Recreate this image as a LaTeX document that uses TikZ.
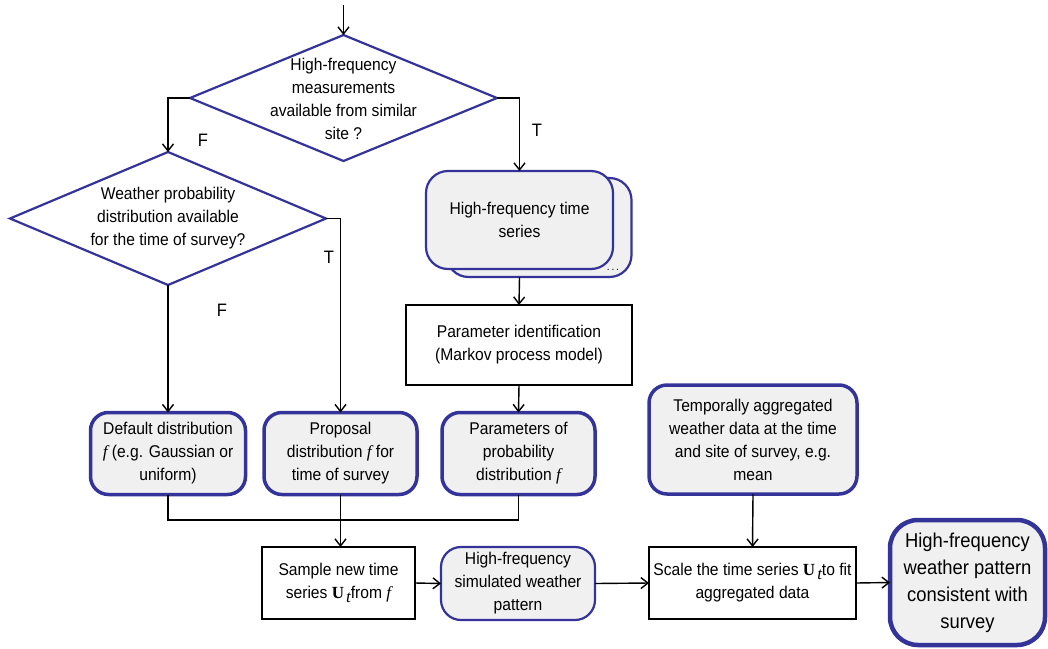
\documentclass[tikz,border=0pt]{standalone}
\usepackage{fontspec}
\setmainfont{Liberation Sans}[FakeStretch=0.92]
\newfontfamily\tmsfont{Liberation Serif}
\usetikzlibrary{shapes.geometric,arrows.meta}
\definecolor{edgeblue}{RGB}{51,51,153}
\definecolor{boxfill}{RGB}{240,240,240}
\newcommand\vecU{{\tmsfont\bfseries U}\kern2pt\raisebox{-0.45ex}{\tmsfont\itshape t}}
\newcommand\distf{{\tmsfont\itshape f}}

\begin{document}
\begin{tikzpicture}[x=1pt,y=-1pt,
  every node/.style={font=\fontsize{17}{23}\selectfont, align=center, inner sep=0pt, outer sep=0pt},
  arr/.style={draw=black, line width=1.4pt, -{Straight Barb[length=7pt,width=11pt]}},
  link/.style={draw=black, line width=1.4pt},
  decision/.style={diamond, draw=edgeblue, line width=2.2pt, fill=white},
  softbox/.style={rounded corners=18pt, draw=edgeblue, fill=boxfill, line width=3.5pt},
  thinsoft/.style={softbox, line width=2.2pt, rounded corners=22pt},
  plainbox/.style={draw=black, line width=1.4pt, fill=white},
  branch/.style={font=\fontsize{18}{20}\selectfont}]
\useasboundingbox (0,0) rectangle (1048,648);

% decisions
\node[decision, minimum width=307pt, minimum height=126pt] (d1) at (343.5,98) {};
\node (d1t) at (343.5,99) {High-frequency\\measurements\\available from similar\\site ?};
\node[decision, minimum width=316pt, minimum height=133pt] (d2) at (168,218.5) {};
\node (d2t) at (168,218) {Weather probability\\distribution available\\for the time of survey?};

% stacked time-series document
\node[thinsoft, minimum width=185pt, minimum height=99pt] (tsb) at (539,227.5) {};
\node[thinsoft, minimum width=187pt, minimum height=98pt] (ts) at (519.5,220) {High-frequency time\\series};
\node (tsd) at (613,270) {\fontsize{11}{11}\selectfont .\,.\,.};

% parameter identification
\node[plainbox, minimum width=226pt, minimum height=80pt] (pid) at (519,345) {Parameter identification\\(Markov process model)};

% distribution boxes
\node[softbox, minimum width=155pt, minimum height=82pt] (def) at (168,453.5) {Default distribution\\\distf\ (e.g. Gaussian or\\uniform)};
\node[softbox, minimum width=153pt, minimum height=82pt] (prop) at (340.5,453.5) {Proposal\\distribution \distf\ for\\time of survey};
\node[softbox, minimum width=153pt, minimum height=82pt] (parm) at (518.5,453.5) {Parameters of\\probability\\distribution \distf};
\node[softbox, minimum width=208pt, minimum height=109pt] (agg) at (753,439.5) {Temporally aggregated\\weather data at the time\\and site of survey, e.g.\\mean};

% bottom row
\node[plainbox, minimum width=153pt, minimum height=72pt] (samp) at (338.5,583) {Sample new time\\series \vecU{}from \distf};
\node[softbox, line width=2.2pt, rounded corners=20pt, minimum width=154pt, minimum height=73pt] (sim) at (518,583.5) {High-frequency\\simulated weather\\pattern};
\node[plainbox, minimum width=207pt, minimum height=72pt] (scale) at (752.5,583) {Scale the time series \vecU{}to fit\\aggregated data};
\node[softbox, line width=4.5pt, rounded corners=28pt, minimum width=155pt, minimum height=125pt, font=\fontsize{20}{27}\selectfont] (out) at (967.5,582.5) {High-frequency\\weather pattern\\consistent with\\survey};

% branch labels
\node[branch] (f1) at (203,140) {F};
\node[branch] (t1) at (537,130) {T};
\node[branch] (t2) at (329,257) {T};
\node[branch] (f2) at (222,310) {F};

% connectors
\coordinate (start) at (343.5,5);
\draw[arr] (start) -- (d1.north);
\draw[arr] (d1.west) -| (d2.north);
\draw[arr] (d1.east) -| (ts.north);
\draw[arr] (d2.east) -| (prop.north);
\draw[arr] (d2.south) -- (def.north);
\draw[arr] (ts.south |- tsb.south) -- (pid.north);
\draw[arr] (pid.south) -- (parm.north);
\coordinate (join) at (340.5,520);
\draw[link] (def.south) |- (join) -| (parm.south);
\draw[arr] (prop.south) -- (prop.south |- samp.north);
\draw[arr] (samp.east) -- (sim.west);
\draw[arr] (sim.east) -- (scale.west);
\draw[arr] (agg.south) -- (scale.north);
\draw[arr] (scale.east) -- (out.west);
\end{tikzpicture}
\end{document}
